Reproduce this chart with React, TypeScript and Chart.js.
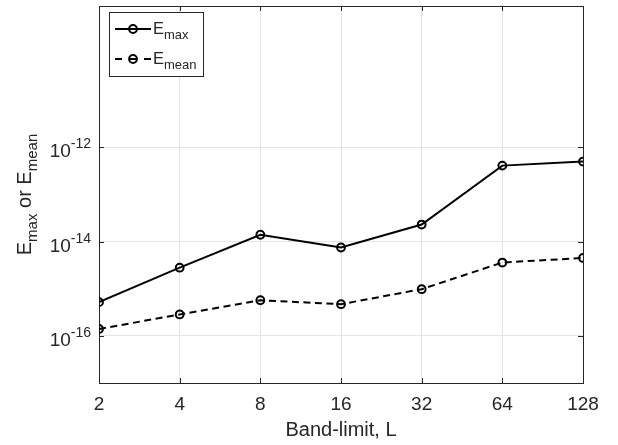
import { useEffect, useRef } from 'react';
import { Chart, registerables } from 'chart.js';

Chart.register(...registerables);

// ---- data ----
const bandLimits = [2, 4, 8, 16, 32, 64, 128];
const eMax = [5.2e-16, 2.8e-15, 1.4e-14, 7.5e-15, 2.3e-14, 4.1e-13, 5.0e-13];
const eMean = [1.4e-16, 2.85e-16, 5.7e-16, 4.7e-16, 9.8e-16, 3.6e-15, 4.5e-15];
const xTickValues = [2, 4, 8, 16, 32, 64, 128];
const yTickExponents = [-16, -14, -12];
const xAxisTitle = 'Band-limit, L';
const seriesNames = [
  { main: 'E', sub: 'max' },
  { main: 'E', sub: 'mean' },
];

const FONT = '"Liberation Sans", Arial, Helvetica, sans-serif';
const TEXT = '#262626';
const AXIS = '#262626';
const GRID = '#e3e3e3';

type Part = { text: string; size: number; dy: number };

function partsWidth(ctx: CanvasRenderingContext2D, parts: Part[]) {
  let w = 0;
  for (const p of parts) {
    ctx.font = `${p.size}px ${FONT}`;
    w += ctx.measureText(p.text).width;
  }
  return w;
}

function drawParts(ctx: CanvasRenderingContext2D, parts: Part[], x: number, y: number) {
  let cx = x;
  ctx.textAlign = 'left';
  ctx.textBaseline = 'alphabetic';
  for (const p of parts) {
    ctx.font = `${p.size}px ${FONT}`;
    ctx.fillText(p.text, cx, y + p.dy);
    cx += ctx.measureText(p.text).width;
  }
}

const matlabPlugin = {
  id: 'matlabLook',
  beforeDatasetsDraw(chart: any) {
    const { ctx, chartArea } = chart;
    const { left, right, top, bottom } = chartArea;
    const xs = chart.scales.x;
    const ys = chart.scales.y;
    ctx.save();
    ctx.strokeStyle = AXIS;
    ctx.lineWidth = 1;
    ctx.strokeRect(Math.round(left) + 0.5, Math.round(top) + 0.5, Math.round(right - left), Math.round(bottom - top));
    const tl = 5;
    ctx.beginPath();
    for (const v of xTickValues) {
      const px = Math.round(xs.getPixelForValue(v)) + 0.5;
      ctx.moveTo(px, bottom);
      ctx.lineTo(px, bottom - tl);
      ctx.moveTo(px, top);
      ctx.lineTo(px, top + tl);
    }
    for (const e of yTickExponents) {
      const py = Math.round(ys.getPixelForValue(Math.pow(10, e))) + 0.5;
      ctx.moveTo(left, py);
      ctx.lineTo(left + tl, py);
      ctx.moveTo(right, py);
      ctx.lineTo(right - tl, py);
    }
    ctx.stroke();
    ctx.restore();
  },
  afterDraw(chart: any) {
    const { ctx, chartArea } = chart;
    const { left, right, top, bottom } = chartArea;
    const xs = chart.scales.x;
    const ys = chart.scales.y;
    ctx.save();
    ctx.fillStyle = TEXT;

    // x tick labels
    ctx.font = `19px ${FONT}`;
    ctx.textAlign = 'center';
    ctx.textBaseline = 'alphabetic';
    for (const v of xTickValues) {
      ctx.fillText(String(v), xs.getPixelForValue(v), bottom + 27);
    }

    // y tick labels 10^e
    for (const e of yTickExponents) {
      const py = ys.getPixelForValue(Math.pow(10, e));
      const parts: Part[] = [
        { text: '10', size: 19, dy: 0 },
        { text: String(e), size: 14, dy: -9 },
      ];
      const w = partsWidth(ctx, parts);
      drawParts(ctx, parts, left - 8 - w, py + 10);
    }

    // x axis title
    ctx.font = `20px ${FONT}`;
    ctx.textAlign = 'center';
    ctx.fillText(xAxisTitle, (left + right) / 2, bottom + 53);

    // y axis title (rotated)
    const yParts: Part[] = [
      { text: seriesNames[0].main, size: 20, dy: 0 },
      { text: seriesNames[0].sub, size: 15, dy: 6 },
      { text: ' or ', size: 20, dy: 0 },
      { text: seriesNames[1].main, size: 20, dy: 0 },
      { text: seriesNames[1].sub, size: 15, dy: 6 },
    ];
    const yw = partsWidth(ctx, yParts);
    ctx.save();
    ctx.translate(31, (top + bottom) / 2);
    ctx.rotate(-Math.PI / 2);
    drawParts(ctx, yParts, -yw / 2, 0);
    ctx.restore();

    // legend
    const lx = 109, ly = 12, lw = 94, lh = 64;
    ctx.fillStyle = '#ffffff';
    ctx.fillRect(lx, ly, lw, lh);
    ctx.strokeStyle = AXIS;
    ctx.lineWidth = 1;
    ctx.strokeRect(lx + 0.5, ly + 0.5, lw, lh);
    const rows = [29, 59];
    chart.data.datasets.forEach((ds: any, i: number) => {
      const ry = rows[i];
      ctx.save();
      ctx.strokeStyle = ds.borderColor;
      ctx.lineWidth = ds.borderWidth;
      ctx.beginPath();
      if (ds.borderDash && ds.borderDash.length) {
        ctx.moveTo(115, ry); ctx.lineTo(122, ry);
        ctx.moveTo(144, ry); ctx.lineTo(151, ry);
        ctx.moveTo(129, ry); ctx.lineTo(137, ry);
      } else {
        ctx.moveTo(115, ry);
        ctx.lineTo(151, ry);
      }
      ctx.stroke();
      ctx.lineWidth = ds.pointBorderWidth;
      ctx.beginPath();
      ctx.arc(133, ry, ds.pointRadius, 0, Math.PI * 2);
      ctx.stroke();
      ctx.restore();
      ctx.fillStyle = TEXT;
      drawParts(ctx, [
        { text: seriesNames[i].main, size: 16.5, dy: 0 },
        { text: seriesNames[i].sub, size: 13, dy: 5 },
      ], 153, ry + 5);
    });
    ctx.restore();
  },
};

export default function App() {
  const canvasRef = useRef<HTMLCanvasElement | null>(null);

  useEffect(() => {
    const canvas = canvasRef.current;
    if (!canvas) return;
    const chart = new Chart(canvas, {
      type: 'line',
      data: {
        datasets: [
          {
            label: 'E_max',
            data: bandLimits.map((x, i) => ({ x, y: eMax[i] })),
            borderColor: '#000000',
            borderWidth: 2,
            pointRadius: 3.9,
            pointBorderWidth: 2,
            pointBackgroundColor: 'rgba(0,0,0,0)',
            pointBorderColor: '#000000',
            tension: 0,
          },
          {
            label: 'E_mean',
            data: bandLimits.map((x, i) => ({ x, y: eMean[i] })),
            borderColor: '#000000',
            borderWidth: 2,
            borderDash: [7, 4.5],
            pointRadius: 3.9,
            pointBorderWidth: 2,
            pointBackgroundColor: 'rgba(0,0,0,0)',
            pointBorderColor: '#000000',
            tension: 0,
          },
        ],
      },
      options: {
        responsive: false,
        animation: false,
        layout: { padding: { left: 99, right: 35, top: 3, bottom: 62 } },
        plugins: {
          legend: { display: false },
          tooltip: { enabled: false },
        },
        scales: {
          x: {
            type: 'logarithmic',
            min: 2,
            max: 128,
            afterBuildTicks: (s: any) => {
              s.ticks = xTickValues.map((v) => ({ value: v }));
            },
            afterFit: (s: any) => {
              s.height = 0;
            },
            ticks: { display: false },
            grid: { color: GRID, lineWidth: 1, drawTicks: false },
            border: { display: false },
          },
          y: {
            type: 'logarithmic',
            min: 1e-17,
            max: 1e-9,
            afterBuildTicks: (s: any) => {
              s.ticks = yTickExponents.map((e) => ({ value: Math.pow(10, e) }));
            },
            afterFit: (s: any) => {
              s.width = 0;
            },
            ticks: { display: false },
            grid: { color: GRID, lineWidth: 1, drawTicks: false },
            border: { display: false },
          },
        },
      },
      plugins: [matlabPlugin],
    } as any);
    return () => chart.destroy();
  }, []);

  return (
    <div style={{ position: 'fixed', left: 0, top: 0, width: 618, height: 445, background: '#ffffff' }}>
      <canvas ref={canvasRef} width={618} height={445} style={{ width: 618, height: 445, display: 'block' }} />
    </div>
  );
}
